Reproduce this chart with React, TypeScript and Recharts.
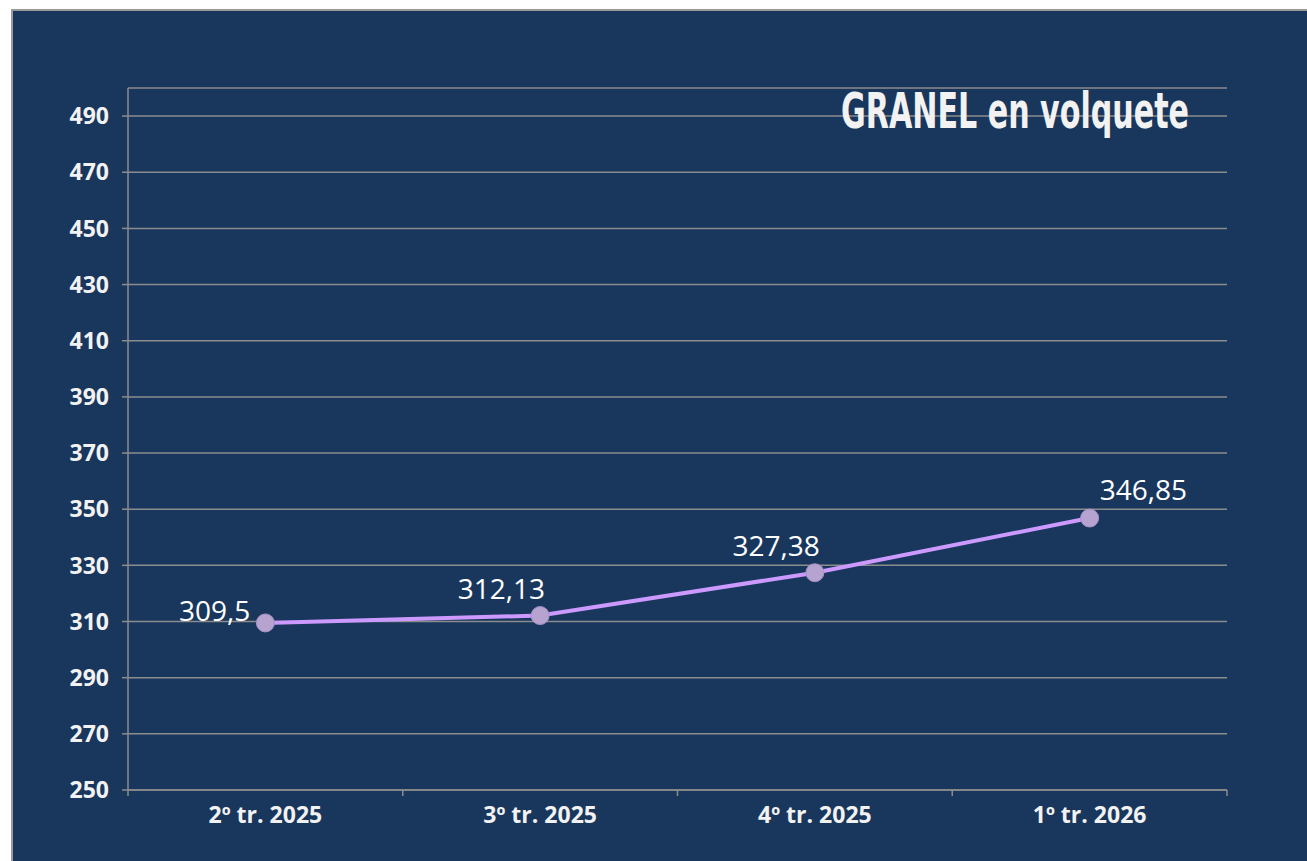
import { ComposedChart, Line, XAxis, YAxis, CartesianGrid, LabelList } from "recharts";

const quarters = ["2º tr. 2025", "3º tr. 2025", "4º tr. 2025", "1º tr. 2026"];
const prices = [309.5, 312.13, 327.38, 346.85];
const yTicks = [250, 270, 290, 310, 330, 350, 370, 390, 410, 430, 450, 470, 490];
const labelSide = ["left", "topLeft", "topLeft", "topRight"];

const BG = "#19375d";
const GRID = "#8c8c8c";
const TEXT = "#f2f2f2";

const W = 1307;
const H = 861;
const MARGIN = { top: 88, right: 80, left: 0, bottom: 0 };
const Y_AXIS_W = 128;
const BAND = (W - MARGIN.left - MARGIN.right - Y_AXIS_W) / quarters.length;
const X_TICK_SIZE = 6;
const X_TICK_MARGIN = 11;

const data = quarters.map((q, i) => ({ quarter: q, price: prices[i] }));

function PriceLabel(props: any) {
    const { x, y, value, index } = props;
    const side = labelSide[index];
    const txt = String(value).replace(".", ",");
    let tx = x, ty = y, anchor = "end";
    if (side === "left") { tx = x - 15; ty = y - 2; }
    else if (side === "topLeft") { tx = x + 5; ty = y - 17; }
    else { tx = x + 10; ty = y - 18; anchor = "start"; }
    return (
        <text x={tx} y={ty} textAnchor={anchor} fill="#ffffff" fontSize={28} fontFamily="'Open Sans', sans-serif">
            {txt}
        </text>
    );
}

// category label in the middle of the band, tick marks on the band edges
function QuarterTick(props: any) {
    const { x, y, payload, index, visibleTicksCount } = props;
    const axisY = y - X_TICK_MARGIN - X_TICK_SIZE;
    const left = x - BAND / 2;
    const right = x + BAND / 2;
    return (
        <g>
            <line x1={left} x2={left} y1={axisY} y2={axisY + X_TICK_SIZE} stroke={GRID} strokeWidth={1.5} />
            {index === visibleTicksCount - 1 && (
                <line x1={right} x2={right} y1={axisY} y2={axisY + X_TICK_SIZE} stroke={GRID} strokeWidth={1.5} />
            )}
            <text x={x} y={y} dy="0.71em" textAnchor="middle" fill={TEXT} fontSize={23} fontWeight={700} fontFamily="'Open Sans', sans-serif">
                {payload.value}
            </text>
        </g>
    );
}

export default function App() {
    return (
        <div style={{ position: "absolute", left: 0, top: 0, width: W, height: H, background: "#fff", overflow: "hidden" }}>
            <div style={{ position: "absolute", left: 11, top: 9, width: 1310, height: 870, background: BG, borderLeft: "2px solid #9a9a9a", borderTop: "2px solid #9a9a9a" }} />
            <div style={{ position: "absolute", left: 0, top: 0 }}>
                <ComposedChart width={W} height={H} data={data} margin={MARGIN}>
                    <CartesianGrid vertical={false} stroke={GRID} strokeWidth={1.5} />
                    <XAxis
                        dataKey="quarter"
                        scale="band"
                        height={71}
                        axisLine={{ stroke: GRID, strokeWidth: 1.5 }}
                        tickLine={false}
                        tickSize={X_TICK_SIZE}
                        tickMargin={X_TICK_MARGIN}
                        interval={0}
                        tick={QuarterTick}
                    />
                    <YAxis
                        width={Y_AXIS_W}
                        domain={[250, 500]}
                        ticks={yTicks}
                        allowDataOverflow
                        axisLine={{ stroke: GRID, strokeWidth: 1.5 }}
                        tickLine={{ stroke: GRID, strokeWidth: 1.5 }}
                        tickSize={6}
                        tickMargin={13}
                        tick={{ fill: TEXT, fontSize: 23, fontWeight: 700, fontFamily: "'Open Sans', sans-serif" }}
                    />
                    <Line
                        dataKey="price"
                        stroke="#cc99ff"
                        strokeWidth={4}
                        dot={{ r: 9, fill: "#b6a3d0", stroke: "#a592c4", strokeWidth: 1 }}
                        activeDot={false}
                        isAnimationActive={false}
                    >
                        <LabelList dataKey="price" content={PriceLabel} />
                    </Line>
                </ComposedChart>
            </div>
            <svg width={W} height={H} style={{ position: "absolute", left: 0, top: 0, pointerEvents: "none" }}>
                <text
                    x={841}
                    y={128}
                    textLength={348}
                    lengthAdjust="spacingAndGlyphs"
                    fill={TEXT}
                    fontSize={49}
                    fontWeight={700}
                    fontFamily="'DejaVu Sans Condensed', sans-serif"
                >
                    GRANEL en volquete
                </text>
            </svg>
        </div>
    );
}
